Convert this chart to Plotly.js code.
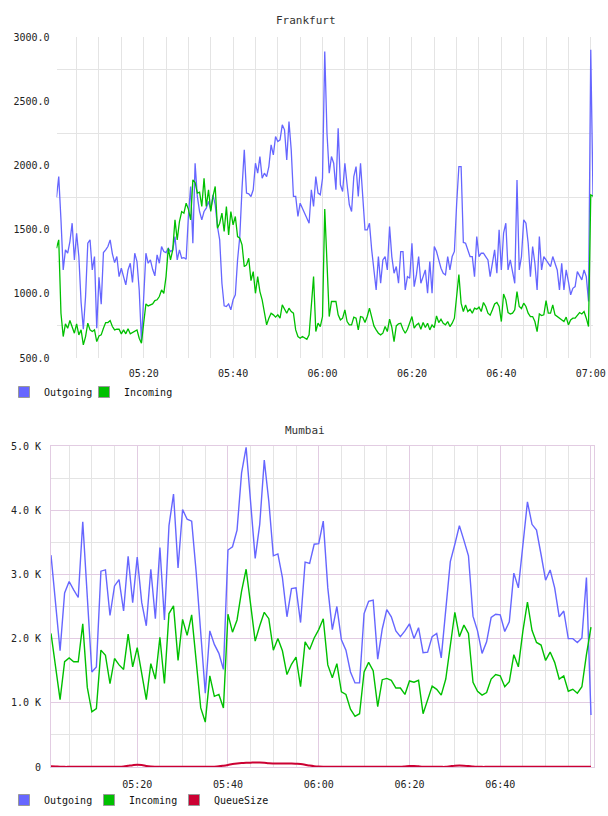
<!DOCTYPE html>
<html>
<head>
<meta charset="utf-8">
<script src="https://cdn.plot.ly/plotly-3.0.1.min.js"></script>
<style>
  html, body { margin: 0; padding: 0; background: #fff; }
  #chart { width: 608px; height: 816px; }
</style>
</head>
<body>
<div id="chart"></div>
<script>
// ---- Frankfurt: samples every 30 s starting 05:00:30 ----
const frankfurtStart = Date.UTC(2024, 0, 1, 5, 0, 30);
const frankfurtStepMs = 30 * 1000;

const frankfurtOutgoing = [
  1750, 1913, 1576, 1186, 1342, 1316, 1407, 1550, 1264, 1472,
  1290, 934, 724, 979, 1394, 1420, 1186, 1290, 732, 1129,
  919, 1321, 1342, 1368, 1420, 1311, 1243, 1290, 1134, 1199,
  1134, 1069, 1186, 1238, 1088, 1316, 1251, 1030, 628, 997,
  1316, 1238, 1264, 1191, 1140, 1303, 1238, 1368, 1329, 1321,
  1355, 1329, 1342, 1446, 1264, 1342, 1277, 1282, 1269, 1602,
  1836, 1394, 2017, 1758, 1641, 1576, 1641, 1667, 1719, 1654,
  1771, 1693, 1524, 1420, 1082, 906, 901, 921, 875, 953,
  992, 1264, 1446, 1823, 2121, 1784, 1778, 1758, 1810, 2017,
  1939, 2069, 1900, 1939, 1913, 1991, 2160, 2082, 2225, 2186,
  2199, 2316, 2277, 2043, 2342, 2121, 1758, 1758, 1602, 1706,
  1667, 1628, 1602, 1550, 1810, 1680, 1913, 1784, 1771, 1900,
  2887, 2251, 1939, 2069, 2017, 1810, 2290, 1849, 1797, 2017,
  1849, 1693, 1641, 1913, 1991, 1758, 2017, 1719, 1498, 1498,
  1550, 1342, 1160, 1030, 1290, 1082, 1264, 1290, 1186, 1524,
  1290, 1160, 1212, 1082, 1329, 1329, 1030, 1134, 1121, 1394,
  1056, 1147, 1290, 1082, 1134, 1186, 1004, 1251, 1004, 1368,
  1329, 1264, 1199, 1160, 1147, 1290, 1186, 1290, 1330, 1700,
  1991, 1991, 1400, 1394, 1342, 1290, 1290, 1134, 1446, 1290,
  1316, 1316, 1290, 1264, 1134, 1238, 1342, 1160, 1498, 1186,
  1472, 1550, 1186, 1264, 1186, 1082, 1887, 1186, 1290, 1576,
  1550, 1394, 1134, 1368, 1238, 1030, 1446, 1186, 1290, 1264,
  1238, 1212, 1290, 1238, 1186, 1030, 1238, 1030, 1186, 1095,
  992, 1043, 1056, 1173, 1134, 1108, 1186, 1134, 940, 2900,
  1760
];

const frankfurtIncoming = [
  1355, 1420, 849, 667, 766, 732, 792, 737, 693, 766,
  680, 719, 602, 667, 771, 719, 706, 719, 628, 672,
  680, 732, 776, 776, 792, 745, 719, 724, 724, 688,
  719, 688, 727, 688, 698, 706, 719, 654, 615, 771,
  921, 906, 916, 921, 947, 953, 979, 1030, 1004, 1134,
  1355, 1264, 1342, 1576, 1420, 1563, 1641, 1628, 1706, 1660,
  1576, 1887, 1867, 1784, 1791, 1680, 1900, 1680, 1810, 1641,
  1758, 1836, 1511, 1550, 1628, 1485, 1680, 1459, 1641, 1537,
  1602, 1446, 1433, 1381, 1212, 1225, 1277, 1103, 1173, 1004,
  1134, 1017, 953, 836, 758, 810, 849, 836, 818, 836,
  810, 914, 875, 849, 888, 862, 849, 719, 667, 654,
  667, 654, 646, 680, 875, 1134, 706, 771, 745, 823,
  1660, 1238, 823, 940, 940, 940, 836, 797, 810, 875,
  784, 758, 758, 818, 810, 719, 823, 818, 776, 823,
  888, 823, 750, 719, 693, 680, 693, 745, 706, 802,
  740, 628, 750, 766, 771, 724, 693, 724, 771, 823,
  732, 758, 771, 724, 776, 737, 771, 719, 758, 737,
  828, 776, 802, 771, 758, 784, 745, 771, 810, 979,
  1150, 927, 862, 914, 862, 880, 849, 888, 880, 896,
  862, 932, 901, 849, 833, 875, 921, 932, 901, 784,
  999, 953, 854, 843, 849, 875, 1017, 901, 885, 927,
  901, 849, 823, 823, 784, 706, 843, 831, 836, 947,
  849, 849, 914, 836, 823, 810, 802, 784, 818, 758,
  797, 810, 810, 836, 854, 843, 862, 810, 745, 1770,
  1760
];

const frankfurtYTicks = [500, 1000, 1500, 2000, 2500, 3000];

// ---- Mumbai: samples every minute starting 05:01 ----
const mumbaiStart = Date.UTC(2024, 0, 1, 5, 1, 0);
const mumbaiStepMs = 60 * 1000;

const mumbaiOutgoing = [
  3300, 2550, 1810, 2710, 2890, 2760, 2640, 3820, 2650, 1480,
  1560, 3050, 3070, 2360, 2820, 2920, 2430, 3280, 2560, 3270,
  2560, 2200, 3080, 2310, 3420, 2290, 3760, 4250, 3100, 4010,
  3860, 3830, 3030, 2070, 1150, 2120, 1910, 1770, 1520, 3380,
  3430, 3690, 4580, 4980, 4040, 3250, 3780, 4780, 4140, 3290,
  3320, 2950, 2340, 2780, 2790, 2250, 3190, 3170, 3470, 3480,
  3830, 2790, 2140, 2500, 1980, 1820, 1480, 1310, 1310, 2390,
  2580, 2600, 1680, 2150, 2450, 2340, 2120, 2030, 2120, 2230,
  2000, 2170, 1780, 1790, 2030, 2080, 1700, 2480, 3200, 3470,
  3760, 3530, 3290, 2350, 2120, 1770, 1950, 2330, 2380, 2370,
  2110, 2260, 3020, 2790, 3520, 4130, 3780, 3690, 3310, 2910,
  3070, 2790, 2340, 2430, 2000, 2000, 1940, 2010, 2950, 810
];

const mumbaiIncoming = [
  2080, 1550, 1050, 1640, 1700, 1640, 1640, 2230, 1240, 860,
  910, 1820, 1740, 1300, 1690, 1590, 1520, 2070, 1560, 1860,
  1440, 1050, 1610, 1370, 2020, 1300, 2390, 2510, 1660, 2300,
  2050, 2370, 1650, 920, 700, 1420, 1100, 1130, 920, 2380,
  2100, 2290, 2740, 3080, 2530, 1960, 2200, 2410, 2310, 1820,
  2000, 1810, 1440, 1600, 1710, 1250, 1950, 1830, 2010, 2140,
  2310, 1590, 1390, 1610, 1170, 1130, 900, 790, 830, 1480,
  1630, 1500, 940, 1360, 1380, 1350, 1230, 1230, 1130, 1340,
  1320, 1350, 830, 1040, 1260, 1210, 1120, 1370, 1880, 2410,
  2030, 2210, 2080, 1320, 1180, 1120, 1160, 1370, 1440, 1420,
  1250, 1330, 1750, 1560, 2120, 2570, 2130, 1940, 1900, 1660,
  1790, 1630, 1370, 1420, 1180, 1210, 1150, 1250, 1750, 2180
];

const mumbaiQueueSize = [
  12, 8, 4, 2, 2, 2, 2, 2, 2, 2,
  2, 2, 2, 2, 2, 3, 8, 18, 28, 35,
  30, 15, 6, 3, 2, 2, 2, 2, 2, 2,
  2, 2, 2, 2, 2, 3, 5, 10, 20, 32,
  45, 55, 62, 66, 68, 70, 70, 66, 58, 55,
  54, 54, 55, 54, 50, 45, 35, 22, 12, 6,
  3, 2, 2, 2, 2, 2, 2, 2, 2, 2,
  2, 2, 2, 2, 2, 2, 2, 3, 8, 14,
  15, 10, 5, 3, 2, 2, 2, 3, 12, 20,
  22, 20, 15, 8, 4, 2, 2, 2, 2, 2,
  2, 2, 2, 2, 2, 2, 2, 2, 2, 2,
  2, 2, 2, 2, 2, 2, 2, 2, 2, 2
];

const mumbaiYTicks = [0, 1000, 2000, 3000, 4000, 5000];
const mumbaiYTickText = ['0', '1.0 K', '2.0 K', '3.0 K', '4.0 K', '5.0 K'];

// ---- helpers ----
function timeAxis(start, stepMs, n) {
  const out = [];
  for (let i = 0; i < n; i++) out.push(start + i * stepMs);
  return out;
}
const W = 608, H = 816;
const px = p => p / W;            // horizontal pixel -> paper fraction
const py = p => 1 - p / H;        // vertical pixel (from top) -> paper fraction

const COLOR_OUT = '#6666ff';
const COLOR_IN = '#00c000';
const COLOR_Q = '#cc0033';
const FONT = 'DejaVu Sans Mono, monospace';
const MIN = 60 * 1000;
const dayStart = Date.UTC(2024, 0, 1, 5, 0, 0);

const fTime = timeAxis(frankfurtStart, frankfurtStepMs, frankfurtOutgoing.length);
const mTime = timeAxis(mumbaiStart, mumbaiStepMs, mumbaiOutgoing.length);

// square legend swatches (the series themselves are drawn as lines)
function swatch(name, color, legend, xa, ya, width) {
  const t = {
    type: 'scatter', mode: 'markers', name: name, x: [null], y: [null],
    xaxis: xa, yaxis: ya, legend: legend, hoverinfo: 'skip',
    marker: { symbol: 'square', size: 11, color: color, line: { color: '#999', width: 1 } }
  };
  if (width) t.legendwidth = width;
  return t;
}

const traces = [
  { type: 'scatter', mode: 'lines', name: 'Outgoing', x: fTime, y: frankfurtOutgoing,
    xaxis: 'x', yaxis: 'y', showlegend: false, line: { color: COLOR_OUT, width: 1.3 } },
  { type: 'scatter', mode: 'lines', name: 'Incoming', x: fTime, y: frankfurtIncoming,
    xaxis: 'x', yaxis: 'y', showlegend: false, line: { color: COLOR_IN, width: 1.3 } },
  { type: 'scatter', mode: 'lines', name: 'Outgoing', x: mTime, y: mumbaiOutgoing,
    xaxis: 'x2', yaxis: 'y2', showlegend: false, line: { color: COLOR_OUT, width: 1.4 } },
  { type: 'scatter', mode: 'lines', name: 'Incoming', x: mTime, y: mumbaiIncoming,
    xaxis: 'x2', yaxis: 'y2', showlegend: false, line: { color: COLOR_IN, width: 1.4 } },
  { type: 'scatter', mode: 'lines', name: 'QueueSize', x: mTime, y: mumbaiQueueSize,
    xaxis: 'x2', yaxis: 'y2', showlegend: false, line: { color: COLOR_Q, width: 2, shape: 'spline' } },
  swatch('Outgoing', COLOR_OUT, 'legend', 'x', 'y'),
  swatch('Incoming', COLOR_IN, 'legend', 'x', 'y', 70),
  swatch('Outgoing', COLOR_OUT, 'legend2', 'x2', 'y2'),
  swatch('Incoming', COLOR_IN, 'legend2', 'x2', 'y2'),
  swatch('QueueSize', COLOR_Q, 'legend2', 'x2', 'y2', 80)
];

const GRID_F = '#e4e4e4';
const GRID_M_MAJOR = '#e2cce2';
const GRID_M_MINOR = '#e4e4e4';

const legendBase = {
  orientation: 'h', xanchor: 'left', yanchor: 'middle',
  bgcolor: 'rgba(0,0,0,0)', borderwidth: 0, font: { family: FONT, size: 10, color: '#111' },
  itemclick: false, itemdoubleclick: false
};

const layout = {
  width: W, height: H,
  margin: { l: 0, r: 0, t: 0, b: 0 },
  paper_bgcolor: '#ffffff', plot_bgcolor: '#ffffff',
  font: { family: FONT, size: 10, color: '#222' },
  showlegend: true,
  hovermode: false,
  xaxis: {
    domain: [px(56.5), px(593)], anchor: 'y', type: 'date',
    range: [frankfurtStart, Date.UTC(2024, 0, 1, 7, 0, 30)],
    tickmode: 'linear', tick0: dayStart, dtick: 20 * MIN, tickformat: '%H:%M',
    showgrid: true, gridcolor: GRID_F, gridwidth: 1, zeroline: false, showline: false,
    ticks: '', ticklabelstandoff: 8,
    minor: { tickmode: 'linear', tick0: dayStart, dtick: 5 * MIN, showgrid: true, gridcolor: GRID_F, gridwidth: 1 }
  },
  yaxis: {
    domain: [py(358), py(37)], anchor: 'x',
    range: [500, 3000], tickmode: 'array', tickvals: frankfurtYTicks, tickformat: '.1f',
    showgrid: false, zeroline: false, showline: false, ticks: '', ticklabelstandoff: 6,
    minor: { tickmode: 'linear', tick0: 750, dtick: 500, showgrid: true, gridcolor: GRID_F, gridwidth: 1 }
  },
  xaxis2: {
    domain: [px(51), px(594)], anchor: 'y2', type: 'date',
    range: [mumbaiStart, Date.UTC(2024, 0, 1, 7, 0, 40)],
    tickmode: 'linear', tick0: dayStart, dtick: 20 * MIN, tickformat: '%H:%M',
    ticklabeloverflow: 'hide past domain',
    showgrid: true, gridcolor: GRID_M_MAJOR, gridwidth: 1, zeroline: false,
    showline: true, mirror: true, linecolor: GRID_M_MAJOR, linewidth: 1,
    ticks: '', ticklabelstandoff: 8,
    minor: { tickmode: 'linear', tick0: dayStart, dtick: 5 * MIN, showgrid: true, gridcolor: GRID_M_MINOR, gridwidth: 1 }
  },
  yaxis2: {
    domain: [py(767), py(446)], anchor: 'x2',
    range: [0, 5000], tickmode: 'array', tickvals: mumbaiYTicks, ticktext: mumbaiYTickText,
    showgrid: true, gridcolor: GRID_M_MAJOR, gridwidth: 1, zeroline: false,
    showline: true, mirror: true, linecolor: GRID_M_MAJOR, linewidth: 1,
    ticks: '', ticklabelstandoff: 7,
    minor: { tickmode: 'linear', tick0: 500, dtick: 1000, showgrid: true, gridcolor: GRID_M_MINOR, gridwidth: 1 }
  },
  legend: Object.assign({}, legendBase, { x: px(4), y: py(392), entrywidth: 35 }),
  legend2: Object.assign({}, legendBase, { x: px(4), y: py(800), entrywidth: 40 }),
  annotations: [
    { text: 'Frankfurt', xref: 'paper', yref: 'paper', x: px(305.5), y: py(20),
      xanchor: 'center', yanchor: 'middle', showarrow: false, font: { family: FONT, size: 11, color: '#333' } },
    { text: 'Mumbai', xref: 'paper', yref: 'paper', x: px(305), y: py(430),
      xanchor: 'center', yanchor: 'middle', showarrow: false, font: { family: FONT, size: 11, color: '#333' } }
  ]
};

Plotly.newPlot('chart', traces, layout, { staticPlot: true, displayModeBar: false });
</script>
</body>
</html>
